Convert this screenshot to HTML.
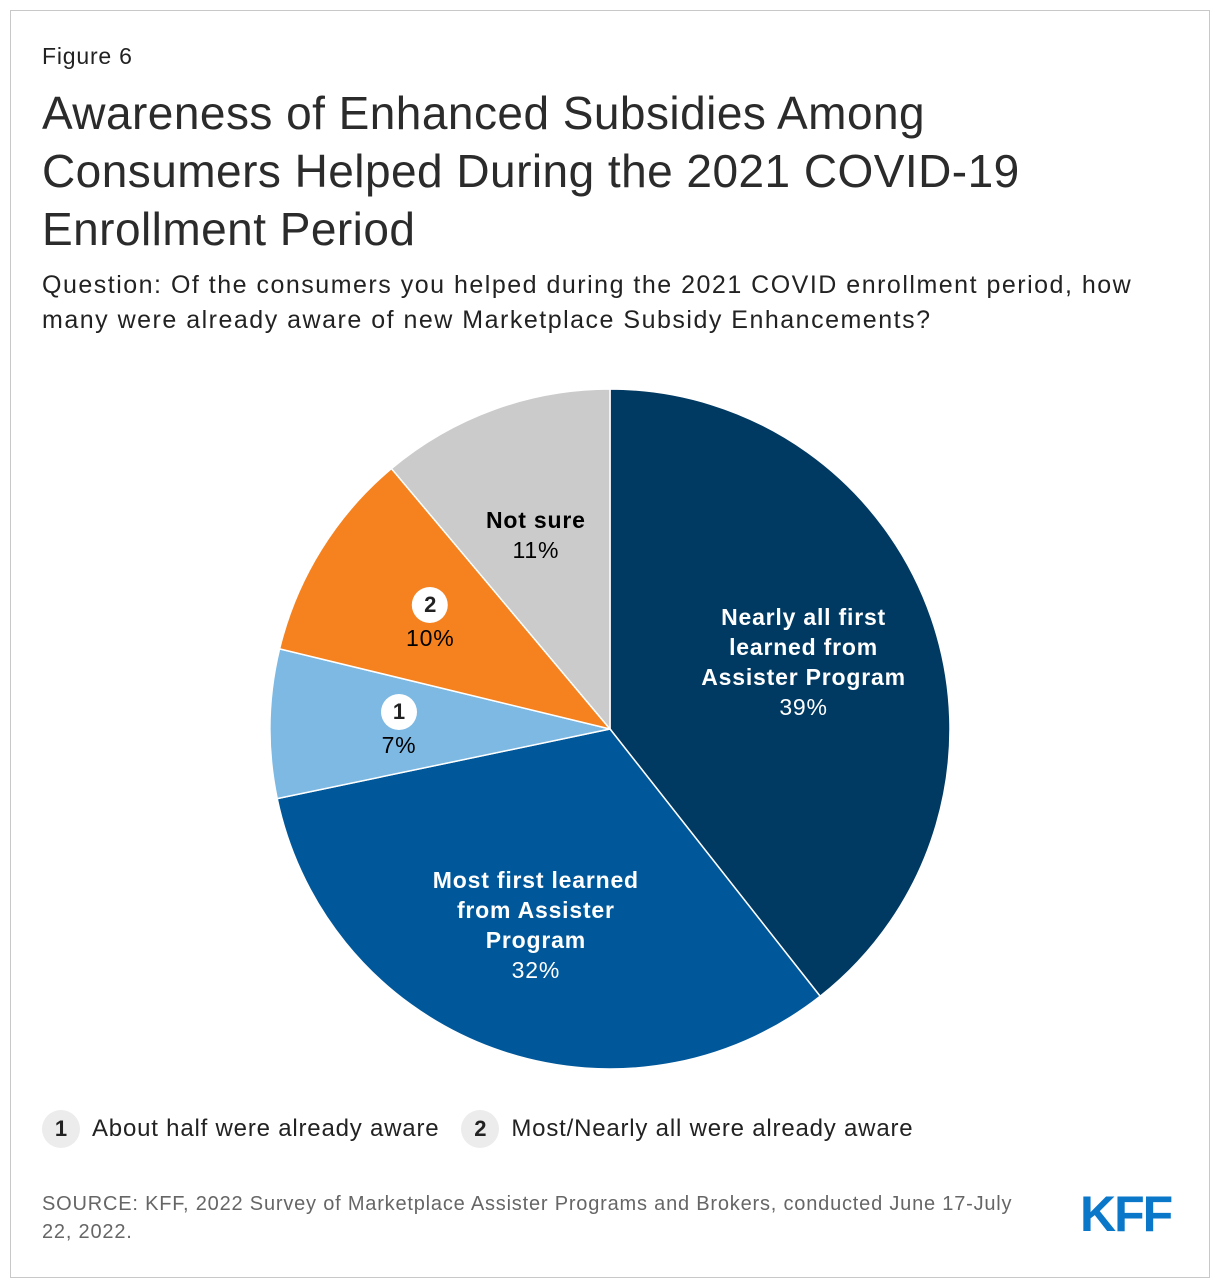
<!DOCTYPE html>
<html><head><meta charset="utf-8"><style>
body{margin:0;width:1220px;height:1288px;background:#fff;font-family:"Liberation Sans",Arial,sans-serif;position:relative;overflow:hidden;letter-spacing:0.05em}
.frame{position:absolute;left:10px;top:10px;width:1198px;height:1266px;border:1px solid #c8c8c8}
.abs{position:absolute;color:#222}
.lab{position:absolute;transform:translate(-50%,-50%);text-align:center;font-size:23px;line-height:30px;white-space:nowrap}
.b{font-weight:bold}
.circ{display:inline-block;width:38px;height:38px;border-radius:50%;background:#ececec;text-align:center;line-height:38px;font-weight:bold;font-size:22px;color:#222;vertical-align:middle;letter-spacing:0}
</style></head><body>
<div class="frame"></div>
<div class="abs" style="left:42px;top:43px;font-size:23px">Figure 6</div>
<div class="abs" style="left:42px;top:84px;font-size:46px;line-height:58px;color:#2b2b2b;width:1060px;letter-spacing:0.01em">Awareness of Enhanced Subsidies Among Consumers Helped During the 2021 COVID-19 Enrollment Period</div>
<div class="abs" style="left:42px;top:268px;font-size:25px;line-height:35px;width:1120px;letter-spacing:0.06em">Question: Of the consumers you helped during the 2021 COVID enrollment period, how many were already aware of new Marketplace Subsidy Enhancements?</div>
<svg id="pie" width="1220" height="1288" style="position:absolute;left:0;top:0"></svg>
<div id="labels"></div>
<div class="abs" style="left:42px;top:1110px;font-size:24px;display:flex;align-items:center">
<span><span class="circ">1</span><span style="margin-left:12px;vertical-align:middle">About half were already aware</span></span>
<span style="margin-left:22px"><span class="circ">2</span><span style="margin-left:12px;vertical-align:middle">Most/Nearly all were already aware</span></span>
</div>
<div class="abs" style="left:42px;top:1190px;font-size:20px;line-height:28px;color:#666;width:1000px">SOURCE: KFF, 2022 Survey of Marketplace Assister Programs and Brokers, conducted June 17-July 22, 2022.</div>
<div class="abs" style="left:1080px;top:1186px;font-size:50px;font-weight:bold;color:#0a77c8;letter-spacing:-2px;line-height:56px">KFF</div>
<script>
const categories=["Nearly all first learned from Assister Program","Most first learned from Assister Program","About half were already aware","Most/Nearly all were already aware","Not sure"];
const values=[39,32,7,10,11];
const colors=["#003a63","#00589a","#7db9e3","#f5821f","#cbcbcb"];
const labelHtml=['<span class="b" style="color:#fff">Nearly all first<br>learned from<br>Assister Program</span><br><span style="color:#fff">39%</span>',
'<span class="b" style="color:#fff">Most first learned<br>from Assister<br>Program</span><br><span style="color:#fff">32%</span>',
'<span class="circ" style="background:#fff;width:36px;height:36px;line-height:36px">1</span><br>7%',
'<span class="circ" style="background:#fff;width:36px;height:36px;line-height:36px">2</span><br>10%',
'<span class="b">Not sure</span><br>11%'];
const cx=610,cy=729,R=340,LR=208;
const svg=document.getElementById('pie');
const total=values.reduce((a,b)=>a+b,0);
function pt(a,r){return [cx+r*Math.sin(a),cy-r*Math.cos(a)];}
let a0=0;
const L=document.getElementById('labels');
values.forEach((v,i)=>{
 const a1=a0+v/total*2*Math.PI;
 const p0=pt(a0,R),p1=pt(a1,R);
 const path=document.createElementNS('http://www.w3.org/2000/svg','path');
 path.setAttribute('d',`M${cx},${cy}L${p0[0]},${p0[1]}A${R},${R} 0 ${a1-a0>Math.PI?1:0} 1 ${p1[0]},${p1[1]}Z`);
 path.setAttribute('fill',colors[i]);path.setAttribute('stroke','#fff');path.setAttribute('stroke-width','1.5');
 
 
 svg.appendChild(path);
 const m=pt((a0+a1)/2,LR);
 const d=document.createElement('div');d.className='lab';
 d.style.left=(m[0]-3)+'px';d.style.top=(m[1]+1)+'px';d.innerHTML=labelHtml[i];
 
 
 L.appendChild(d);
 a0=a1;
});
</script>
</body></html>
